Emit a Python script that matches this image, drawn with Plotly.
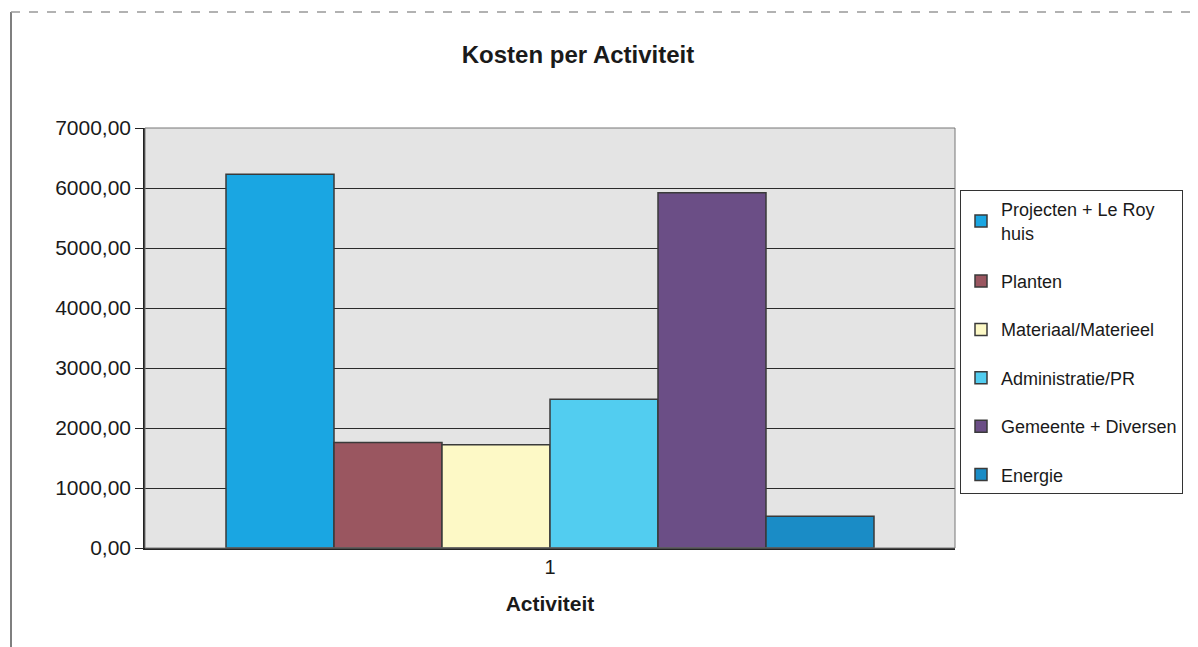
import plotly.graph_objects as go

categories = ["1"]
series_names = ["Projecten + Le Roy<br>huis", "Planten", "Materiaal/Materieel",
                "Administratie/PR", "Gemeente + Diversen", "Energie"]
series_values = [6230, 1760, 1720, 2480, 5920, 530]
series_colors = ["#1aa6e2", "#9a5660", "#fdf9c6", "#52cdf0", "#6b4e86", "#1a8cc6"]
y_ticks = [0, 1000, 2000, 3000, 4000, 5000, 6000, 7000]

fig = go.Figure()
for i, (name, val, col) in enumerate(zip(series_names, series_values, series_colors)):
    fig.add_trace(go.Bar(
        x=categories, y=[val], name=name, legendgroup=f"g{i}",
        marker=dict(color=col, line=dict(color="#3a3a3a", width=1.5)),
    ))

W, H = 1190, 639
L, T = 137, 120
PW, PH = 810, 420


def px(x):
    return (x - 145) / PW


def py(y):
    return (548 - y) / PH


fig.update_layout(
    width=W, height=H,
    margin=dict(l=L, r=W - L - PW, t=T, b=H - T - PH, autoexpand=False),
    paper_bgcolor="white", plot_bgcolor="#e4e4e4",
    font=dict(family="Liberation Sans, Arial, sans-serif", color="#1a1a1a", size=21),
    separators=",.",
    title=dict(text="<b>Kosten per Activiteit</b>", x=(578 - 8) / W, xanchor="center",
               y=1 - (55 - 8) / H, yanchor="middle", font=dict(size=24)),
    barmode="group", bargap=0.2, bargroupgap=0,
    showlegend=True,
    legend=dict(x=px(960), xanchor="left", y=py(190), yanchor="top",
                bordercolor="#333", borderwidth=1, bgcolor="white",
                font=dict(size=18), traceorder="grouped", tracegroupgap=22,
                itemwidth=30),
)
fig.update_yaxes(range=[0, 7000], tickvals=y_ticks, tickformat=".2f",
                 showgrid=True, gridcolor="#2a2a2a", gridwidth=1,
                 showline=True, linecolor="#222", linewidth=1.5, mirror=False,
                 ticks="outside", ticklen=8, tickcolor="#222", zeroline=False,
                 tickfont=dict(size=21))
fig.update_xaxes(type="category", title=dict(text="<b>Activiteit</b>", font=dict(size=21), standoff=20),
                 showline=True, linecolor="#222", linewidth=1.5,
                 ticks="", tickfont=dict(size=20))

# outer chart frame (scanned page edges)
fig.add_shape(type="line", xref="paper", yref="paper",
              x0=px(11), x1=px(11), y0=py(650), y1=py(12),
              line=dict(color="#555", width=1.5))
fig.add_shape(type="line", xref="paper", yref="paper",
              x0=px(11), x1=px(1194), y0=py(12), y1=py(12),
              line=dict(color="#999", width=1.5, dash="dash"))
fig.add_shape(type="line", xref="paper", yref="paper",
              x0=px(1193), x1=px(1193), y0=py(12), y1=py(650),
              line=dict(color="#cfcfcf", width=1))
# plot area top/right border
fig.add_shape(type="rect", xref="paper", yref="paper", x0=0, x1=1, y0=0, y1=1,
              line=dict(color="#777", width=1), fillcolor="rgba(0,0,0,0)")

fig.write_html("out.html")
